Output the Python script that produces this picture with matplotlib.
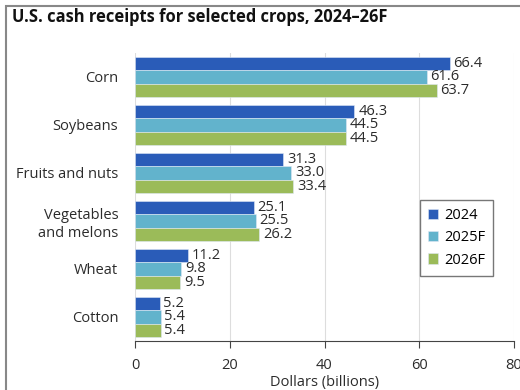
import matplotlib
matplotlib.use("Agg")
import matplotlib.pyplot as plt
from matplotlib.patches import Rectangle
import numpy as np

plt.rcParams['font.family'] = ['Open Sans', 'DejaVu Sans']

crops = ["Corn", "Soybeans", "Fruits and nuts", "Vegetables\nand melons", "Wheat", "Cotton"]
series = ["2024", "2025F", "2026F"]
vals_2024 = [66.4, 46.3, 31.3, 25.1, 11.2, 5.2]
vals_2025 = [61.6, 44.5, 33.0, 25.5, 9.8, 5.4]
vals_2026 = [63.7, 44.5, 33.4, 26.2, 9.5, 5.4]
colors = ["#2a5cb8", "#62b3cc", "#9bbb59"]
x_ticks = [0, 20, 40, 60, 80]

fig = plt.figure(figsize=(5.2, 3.9), dpi=100)
ax = fig.add_axes([135/520, 1 - 341/390, (514 - 135)/520, (341 - 53)/390])

y = np.arange(len(crops))
h = 0.28
for i, (vals, col, name) in enumerate(zip([vals_2024, vals_2025, vals_2026], colors, series)):
    pos = y + (i - 1) * h
    ax.barh(pos, vals, height=h, color=col, edgecolor="#dfe8f5", linewidth=0.4,
            label=name, zorder=3)
    for p, v in zip(pos, vals):
        ax.text(v + 0.8, p, f"{v:.1f}", va="center", ha="left", fontsize=10.5,
                color="#2b2b2b", zorder=4, linespacing=1.0)

ax.set_ylim(len(crops) - 0.5, -0.5)
ax.set_xlim(0, 80)
ax.set_yticks(y)
ax.set_yticklabels(crops, fontsize=10.5, color="#2b2b2b", linespacing=1.3)
ax.set_xticks(x_ticks)
ax.set_xticklabels([str(t) for t in x_ticks], fontsize=10.5, color="#2b2b2b")
ax.tick_params(axis="y", length=0, pad=12)
ax.tick_params(axis="x", length=5, width=0.8, color="#444444", pad=7)
ax.grid(axis="x", color="#dddddd", linewidth=0.8, zorder=0)
ax.set_axisbelow(True)
for s in ["top", "right", "left"]:
    ax.spines[s].set_visible(False)
ax.spines["bottom"].set_color("#444444")
ax.spines["bottom"].set_linewidth(0.8)
ax.set_xlabel("Dollars (billions)", fontsize=10.5, color="#2b2b2b", labelpad=2)

leg = ax.legend(loc="upper left", bbox_to_anchor=((420 - 135)/379, 1 - (200 - 53)/288),
                fontsize=10.5, handlelength=0.7, handleheight=0.7, handletextpad=0.4,
                labelspacing=0.5, borderpad=0.55, borderaxespad=0, fancybox=False,
                framealpha=1)
leg.get_frame().set_edgecolor("#777777")
leg.get_frame().set_linewidth(1.0)

fig.text(12/520, 1 - 17/390, "U.S. cash receipts for selected crops, 2024\u201326F",
         fontsize=11.9, fontweight="bold", ha="left", va="center", color="#111111")

fig.patches.append(Rectangle((6/520, -0.1), 1.2, 1 - 6/390 + 0.1, transform=fig.transFigure,
                             fill=False, edgecolor="#888888", linewidth=1.5))

fig.savefig("out.png", dpi=100)
